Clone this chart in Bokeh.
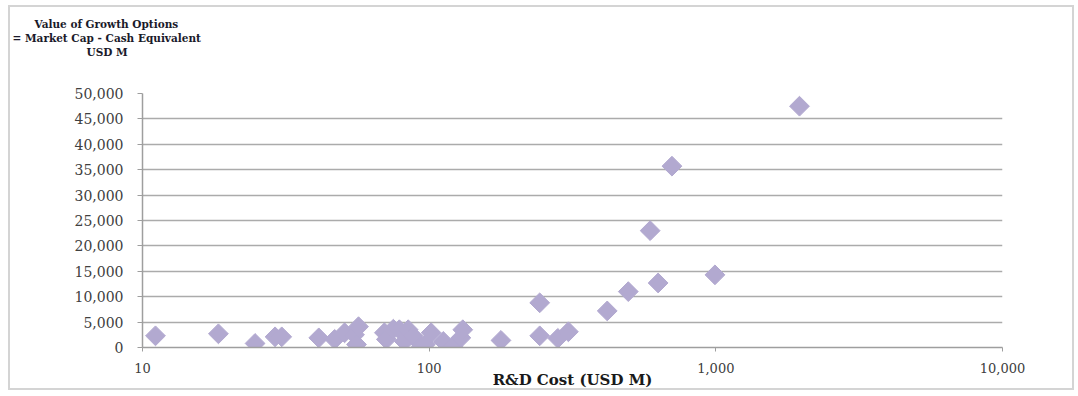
import math
from bokeh.plotting import figure
from bokeh.models import Title, FixedTicker, NumeralTickFormatter, ColumnDataSource, Range1d
from bokeh.embed import file_html
from bokeh.resources import INLINE

# ---- data ----
rd_cost_usd_m = [11.1, 18.4, 24.7, 29.0, 30.6, 41.2, 46.8, 50.7, 54.9, 55.8, 56.7,
                 69.8, 70.9, 75.0, 78.7, 81.9, 84.5, 88.0, 93.8, 97.0, 101.6, 112.0,
                 121.0, 129.0, 131.0, 178.0, 243.0, 243.0, 281.0, 306.0,
                 418.0, 495.0, 590.0, 629.0, 703.0, 993.0, 1958.0]
growth_option_value = [2300, 2700, 800, 2100, 2100, 1900, 1600, 2900, 2500, 600, 4100,
                       2900, 1600, 3600, 3500, 1200, 3500, 2200, 200, 600, 2900, 1200,
                       200, 1900, 3500, 1400, 8800, 2300, 1800, 3100,
                       7200, 11000, 23000, 12700, 35700, 14300, 47500]
x_ticks = [10, 100, 1000, 10000]
x_tick_labels = ["10", "100", "1,000", "10,000"]
y_ticks = [0, 5000, 10000, 15000, 20000, 25000, 30000, 35000, 40000, 45000, 50000]
title_lines = ["Value of Growth Options", "= Market Cap - Cash Equivalent", "USD M"]
x_axis_title = "R&D Cost (USD M)"

src = ColumnDataSource(dict(x=rd_cost_usd_m, y=growth_option_value))

p = figure(width=1066, height=385, x_axis_type="log",
           x_range=Range1d(10, 10000), y_range=Range1d(0, 50000),
           output_backend="svg", toolbar_location=None,
           min_border_left=132, min_border_right=74, min_border_top=86, min_border_bottom=45)
p.margin = (5, 0, 0, 8)
p.styles = {"border": "2px solid #d4d4d4"}
p.outline_line_color = None
p.background_fill_color = "white"

p.scatter("x", "y", source=src, marker="square", size=14, angle=math.pi / 4,
          fill_color="#B2A9D0", line_color="#B2A9D0", line_width=1)

# grid
p.xgrid.grid_line_color = None
p.ygrid.grid_line_color = "#ABABAB"
p.ygrid.grid_line_width = 1.6

font = "DejaVu Serif"
# x axis
xa = p.xaxis[0]
xa.ticker = FixedTicker(ticks=x_ticks, minor_ticks=[])
xa.major_label_overrides = {t: l for t, l in zip(x_ticks, x_tick_labels)}
xa.axis_line_color = "#9E9E9E"
xa.axis_line_width = 1.5
xa.major_tick_line_color = "#9E9E9E"
xa.major_tick_out = 4
xa.major_tick_in = 0
xa.minor_tick_line_color = None
xa.major_label_text_font = font
xa.major_label_text_font_size = "13px"
xa.major_label_text_color = "#404040"
xa.major_label_standoff = 11
xa.axis_label = x_axis_title
xa.axis_label_text_font = font
xa.axis_label_text_font_style = "bold"
xa.axis_label_text_font_size = "15px"
xa.axis_label_text_color = "#1a1a1a"
xa.axis_label_standoff = -5

# y axis
ya = p.yaxis[0]
ya.ticker = FixedTicker(ticks=y_ticks, minor_ticks=[])
ya.formatter = NumeralTickFormatter(format="0,0")
ya.axis_line_color = "#9E9E9E"
ya.axis_line_width = 1.5
ya.major_tick_line_color = "#9E9E9E"
ya.major_tick_out = 5
ya.major_tick_in = 0
ya.minor_tick_line_color = None
ya.major_label_text_font = font
ya.major_label_text_font_size = "14px"
ya.major_label_text_color = "#404040"
ya.major_label_standoff = 14

# invisible spacer between the frame and the title block
p.add_layout(Title(text=" ", standoff=22, text_font=font, text_font_size="10.5px"), "above")
# multi-line title at top-left, stacked Title objects (innermost first)
offsets = [-108, -130, -56]
for i in [2, 1, 0]:
    p.add_layout(Title(text=title_lines[i], align="left", offset=offsets[i], standoff=0,
                       text_font=font, text_font_style="bold", text_font_size="10.5px",
                       text_color="#1a1a2a"), "above")

open("out.html", "w").write(file_html(p, INLINE))
